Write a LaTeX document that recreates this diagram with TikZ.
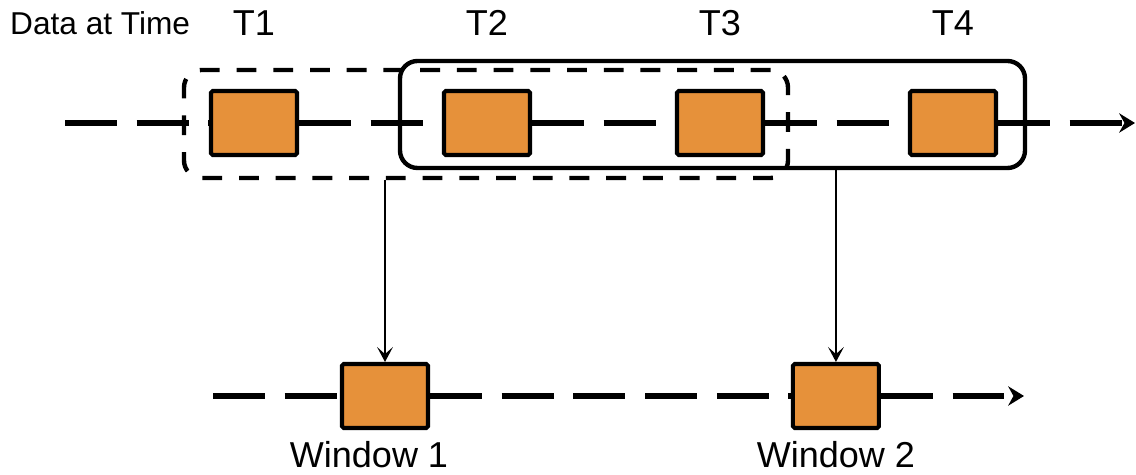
\documentclass[tikz,border=0pt]{standalone}
\usepackage{fontspec}
\setmainfont{Liberation Sans}
\usepackage{xcolor}
\usepackage{tikz}
\usetikzlibrary{arrows.meta, positioning, fit}
\definecolor{dataorange}{RGB}{230, 145, 58}

\begin{document}
\begin{tikzpicture}[
    x=0.02cm, y=-0.02cm,
    node distance=2.86cm,
    databox/.style={rectangle, draw=black, fill=dataorange, line width=2.3pt, minimum width=1.72cm, minimum height=1.28cm, rounded corners=1pt},
    stream/.style={line width=3.4pt, dash pattern=on 29.5pt off 11.3pt},
    streamend/.style={stream, -{Stealth[length=9pt, width=11pt, inset=3pt]}},
    oldwin/.style={draw, line width=2.5pt, dash pattern=on 11.3pt off 9.6pt, rounded corners=0.35cm, inner sep=0pt},
    newwin/.style={draw, line width=2.5pt, rounded corners=0.35cm, inner sep=0pt},
    pick/.style={-{Stealth[length=8.5pt, width=9pt, inset=4pt]}, line width=0.85pt},
    tlabel/.style={font=\fontsize{20.5pt}{24pt}\selectfont, anchor=base},
    wlabel/.style={font=\fontsize{20.5pt}{24pt}\selectfont, anchor=base}
]
\useasboundingbox (0,0) rectangle (1136,475);

% incoming data
\node[databox] (t1) at (254,123) {};
\node[databox, right=of t1] (t2) {};
\node[databox, right=of t2] (t3) {};
\node[databox, right=of t3] (t4) {};
\coordinate (in) at (65,123);
\coordinate (out) at (1135,123);

\draw[stream] (in) -- (t1);
\draw[stream] (t1) -- (t2);
\draw[stream] (t2) -- (t3);
\draw[stream] (t3) -- (t4);
\draw[streamend] (t4) -- (out);

% windows
\node[oldwin, fit={(184,70) (788,178)}] (win1) {};
\node[newwin, fit={(400,61) (1025,168)}] (win2) {};

% labels
\coordinate (tline) at (0,36);
\node[font=\fontsize{18pt}{22pt}\selectfont, anchor=base west] (datalbl) at (4,35) {Data at Time};
\node[tlabel] (t1lbl) at (t1 |- tline) {T1};
\node[tlabel] (t2lbl) at (t2 |- tline) {T2};
\node[tlabel] (t3lbl) at (t3 |- tline) {T3};
\node[tlabel] (t4lbl) at (t4 |- tline) {T4};

% output
\node[databox] (w1) at (385,396) {};
\node[databox, right=7.22cm of w1] (w2) {};
\coordinate (bin) at (213,396);
\coordinate (bout) at (1024,396);

\draw[stream] (bin) -- (w1);
\draw[stream] (w1) -- (w2);
\draw[streamend] (w2) -- (bout);

\draw[pick] (win1.south -| w1) -- (w1);
\draw[pick] (win2.south -| w2) -- (w2);

\coordinate (wline) at (0,468);
\node[wlabel, xshift=-0.32cm] (w1lbl) at (w1 |- wline) {Window 1};
\node[wlabel] (w2lbl) at (w2 |- wline) {Window 2};

\end{tikzpicture}
\end{document}
